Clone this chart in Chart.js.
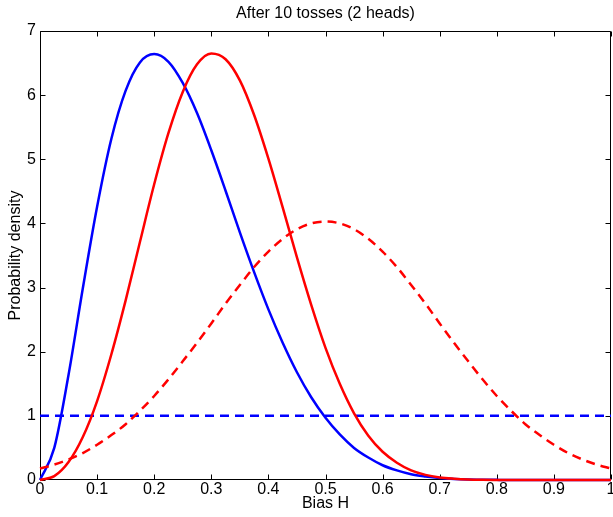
<!DOCTYPE html>
<html lang="en">
  <head>
    <meta charset="UTF-8" />
    <title>After 10 tosses (2 heads)</title>
    <style>
      html, body { margin: 0; padding: 0; background: #fff; }
    </style>
  </head>
  <body>
    <canvas id="chart" width="613" height="517"></canvas>

    <script src="https://cdn.jsdelivr.net/npm/chart.js"></script>
    <script>
      // bias values along the x axis
      const biasH = [0, 0.025, 0.05, 0.075, 0.1, 0.125, 0.15, 0.175, 0.2, 0.225,
        0.25, 0.275, 0.3, 0.325, 0.35, 0.375, 0.4, 0.425, 0.45, 0.475,
        0.5, 0.525, 0.55, 0.575, 0.6, 0.625, 0.65, 0.675, 0.7, 0.725,
        0.75, 0.775, 0.8, 0.825, 0.85, 0.875, 0.9, 0.925, 0.95, 0.975, 1];

      // flat prior (blue dashed)
      const flatPrior = [1, 1, 1, 1, 1, 1, 1, 1, 1, 1,
        1, 1, 1, 1, 1, 1, 1, 1, 1, 1,
        1, 1, 1, 1, 1, 1, 1, 1, 1, 1,
        1, 1, 1, 1, 1, 1, 1, 1, 1, 1, 1];

      // posterior from the flat prior (blue solid)
      const flatPosterior = [0, 0.50, 1.64, 2.99, 4.26, 5.32, 6.07, 6.51, 6.64, 6.52,
        6.19, 5.72, 5.14, 4.51, 3.86, 3.24, 2.66, 2.14, 1.68, 1.29,
        0.97, 0.71, 0.50, 0.35, 0.23, 0.15, 0.09, 0.056, 0.032, 0.017,
        0.008, 0.004, 0.002, 0.0005, 0, 0, 0, 0, 0, 0, 0];

      // peaked prior (red dashed)
      const peakPrior = [0.18, 0.24, 0.32, 0.42, 0.55, 0.70, 0.87, 1.08, 1.31, 1.57,
        1.85, 2.14, 2.44, 2.75, 3.04, 3.32, 3.56, 3.76, 3.91, 4.00,
        4.03, 4.00, 3.91, 3.76, 3.56, 3.32, 3.04, 2.75, 2.44, 2.14,
        1.85, 1.57, 1.31, 1.08, 0.87, 0.70, 0.55, 0.42, 0.32, 0.24, 0.18];

      // posterior from the peaked prior (red solid)
      const peakPosterior = [0, 0.06, 0.28, 0.67, 1.23, 1.96, 2.80, 3.71, 4.61, 5.41,
        6.05, 6.48, 6.65, 6.56, 6.23, 5.69, 5.01, 4.25, 3.47, 2.73,
        2.06, 1.50, 1.04, 0.69, 0.44, 0.27, 0.15, 0.08, 0.04, 0.02,
        0.008, 0.003, 0.001, 0, 0, 0, 0, 0, 0, 0, 0];

      // tick positions and labels
      const xTicks = [0, 0.1, 0.2, 0.3, 0.4, 0.5, 0.6, 0.7, 0.8, 0.9, 1];
      const xTickLabels = ["0", "0.1", "0.2", "0.3", "0.4", "0.5", "0.6", "0.7", "0.8", "0.9", "1"];
      const yTicks = [0, 1, 2, 3, 4, 5, 6, 7];
      const yTickLabels = ["0", "1", "2", "3", "4", "5", "6", "7"];

      const chartTitle = "After 10 tosses (2 heads)";
      const fontFamily = '"Liberation Sans", Arial, Helvetica, sans-serif';
      const fontSize = 16;

      const toPoints = (ys) => ys.map((y, i) => ({ x: biasH[i], y: y }));

      // box with inward ticks, MATLAB style, plus the title over the plot area
      const matlabAxes = {
        id: "matlabAxes",
        beforeDatasetsDraw(chart) {
          const { ctx, chartArea: a, scales } = chart;
          const x = scales.x;
          const y = scales.y;
          const L = Math.round(a.left) + 0.5;
          const R = Math.round(a.right) - 0.5;
          const T = Math.round(a.top) + 0.5;
          const B = Math.round(a.bottom) - 0.5;
          ctx.save();
          ctx.strokeStyle = "#000";
          ctx.lineWidth = 1;
          ctx.beginPath();
          ctx.rect(L, T, R - L, B - T);
          xTicks.forEach((v) => {
            const px = Math.round(x.getPixelForValue(v)) + 0.5;
            ctx.moveTo(px, B);
            ctx.lineTo(px, B - 5);
            ctx.moveTo(px, T);
            ctx.lineTo(px, T + 5);
          });
          yTicks.forEach((v) => {
            const py = Math.round(y.getPixelForValue(v)) + 0.5;
            ctx.moveTo(L, py);
            ctx.lineTo(L + 5, py);
            ctx.moveTo(R, py);
            ctx.lineTo(R - 5, py);
          });
          ctx.stroke();

          ctx.fillStyle = "#000";
          ctx.font = fontSize + "px " + fontFamily;
          ctx.textAlign = "center";
          ctx.textBaseline = "middle";
          ctx.fillText(chartTitle, (a.left + a.right) / 2, 14);
          ctx.restore();
        },
      };

      const lineStyle = {
        pointRadius: 0,
        borderWidth: 2.5,
        borderCapStyle: "butt",
        cubicInterpolationMode: "monotone",
        clip: false,
      };

      const ctx = document.getElementById("chart").getContext("2d");
      new Chart(ctx, {
        type: "line",
        data: {
          datasets: [
            Object.assign({ label: "posterior (peaked prior)", data: toPoints(peakPosterior), borderColor: "#ff0000" }, lineStyle),
            Object.assign({ label: "peaked prior", data: toPoints(peakPrior), borderColor: "#ff0000", borderDash: [9, 6] }, lineStyle),
            Object.assign({ label: "posterior (flat prior)", data: toPoints(flatPosterior), borderColor: "#0000ff" }, lineStyle),
            Object.assign({ label: "flat prior", data: toPoints(flatPrior), borderColor: "#0000ff", borderDash: [9, 6] }, lineStyle),
          ],
        },
        options: {
          responsive: false,
          animation: false,
          layout: { padding: { top: 31, right: 2, left: 0, bottom: 0 } },
          plugins: {
            legend: { display: false },
            tooltip: { enabled: false },
            title: { display: false },
          },
          scales: {
            x: {
              type: "linear",
              min: 0,
              max: 1,
              grid: { display: false, drawTicks: false },
              border: { display: false },
              afterBuildTicks: (s) => { s.ticks = xTicks.map((v) => ({ value: v })); },
              ticks: {
                autoSkip: false,
                maxRotation: 0,
                padding: 0,
                color: "#000",
                font: { family: fontFamily, size: fontSize },
                callback: (v, i) => xTickLabels[i],
              },
              title: {
                display: true,
                text: "Bias H",
                color: "#000",
                font: { family: fontFamily, size: fontSize },
                padding: { top: 0, bottom: 4 },
              },
              afterFit: (s) => { s.height = 37; s.paddingLeft = 0; s.paddingRight = 0; },
            },
            y: {
              type: "linear",
              min: 0,
              max: 7,
              grid: { display: false, drawTicks: false },
              border: { display: false },
              afterBuildTicks: (s) => { s.ticks = yTicks.map((v) => ({ value: v })); },
              ticks: {
                autoSkip: false,
                padding: 4,
                color: "#000",
                font: { family: fontFamily, size: fontSize },
                callback: (v, i) => yTickLabels[i],
              },
              title: {
                display: true,
                text: "Probability density",
                color: "#000",
                font: { family: fontFamily, size: fontSize },
                padding: { top: 6, bottom: 0 },
              },
              afterFit: (s) => { s.width = 40; },
            },
          },
        },
        plugins: [matlabAxes],
      });
    </script>
  </body>
</html>
